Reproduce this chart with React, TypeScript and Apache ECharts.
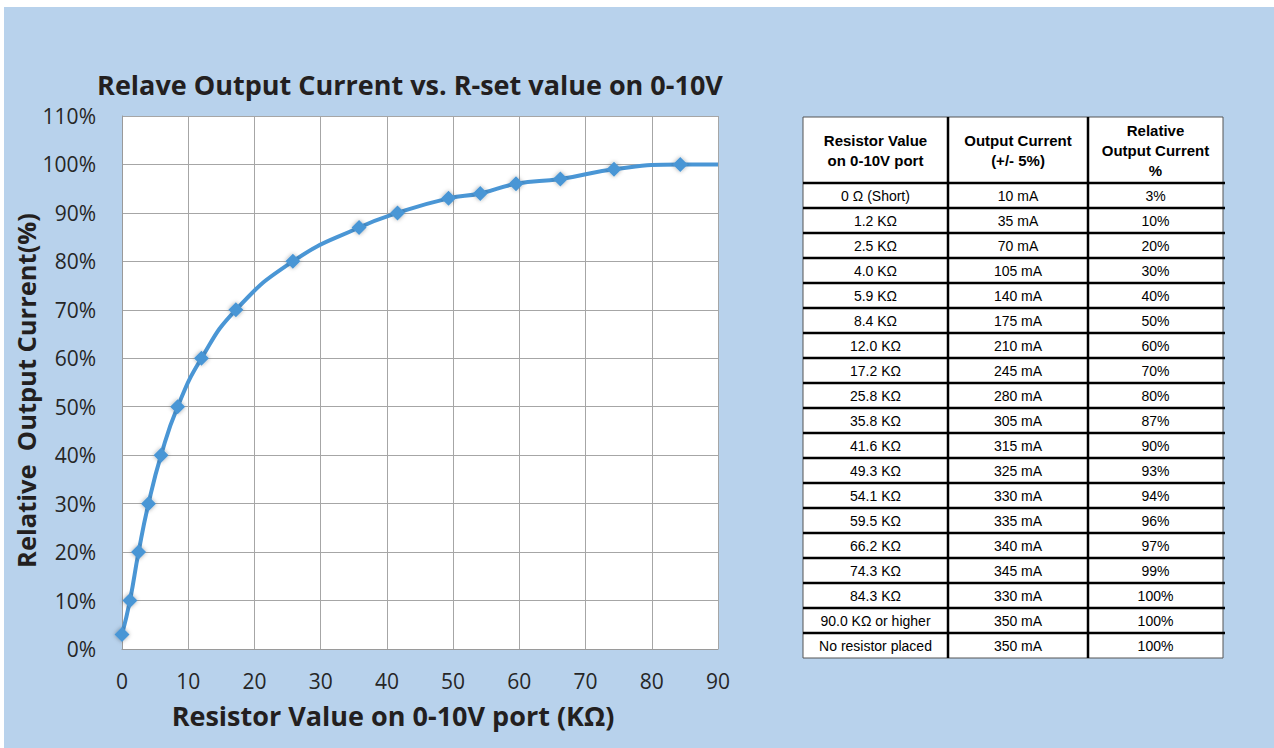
import React, { useEffect, useRef } from "react";
import * as echarts from "echarts";

// ---- Data ----
const resistorKOhm = [0, 1.2, 2.5, 4.0, 5.9, 8.4, 12.0, 17.2, 25.8, 35.8, 41.6, 49.3, 54.1, 59.5, 66.2, 74.3, 84.3, 90.0];
const relativePct = [3, 10, 20, 30, 40, 50, 60, 70, 80, 87, 90, 93, 94, 96, 97, 99, 100, 100];
const xTicks = [0, 10, 20, 30, 40, 50, 60, 70, 80, 90];
const yTicks = [0, 10, 20, 30, 40, 50, 60, 70, 80, 90, 100, 110];

const tableHeaders = ["Resistor Value\non 0-10V port", "Output Current\n(+/- 5%)", "Relative\nOutput Current\n%"];
const tableResistor = [
  "0 Ω (Short)", "1.2 KΩ", "2.5 KΩ", "4.0 KΩ", "5.9 KΩ", "8.4 KΩ", "12.0 KΩ", "17.2 KΩ", "25.8 KΩ",
  "35.8 KΩ", "41.6 KΩ", "49.3 KΩ", "54.1 KΩ", "59.5 KΩ", "66.2 KΩ", "74.3 KΩ", "84.3 KΩ",
  "90.0 KΩ or higher", "No resistor placed",
];
const tableCurrentMA = [10, 35, 70, 105, 140, 175, 210, 245, 280, 305, 315, 325, 330, 335, 340, 345, 330, 350, 350];
const tableRelativePct = [3, 10, 20, 30, 40, 50, 60, 70, 80, 87, 90, 93, 94, 96, 97, 99, 100, 100, 100];

const titleText = "Relave Output Current vs. R-set value on 0-10V";
const xName = "Resistor Value on 0-10V port (KΩ)";
const yName = "Relative  Output Current(%)";

// ---- Layout constants ----
const BG = "#b8d2ec";
const LINE = "#4a96d5";
const FONT = "'Open Sans', Lato, sans-serif";
const TFONT = "'Liberation Sans', Arial, sans-serif";

const colX = [799, 944, 1084, 1219];
const tableTop = 110;
const headerH = 66;
const rowH = 25;

function buildTable(): any[] {
  const els: any[] = [];
  const nRows = tableResistor.length;
  const bottom = tableTop + headerH + rowH * nRows;
  els.push({
    type: "rect",
    shape: { x: colX[0], y: tableTop, width: colX[3] - colX[0], height: bottom - tableTop },
    style: { fill: "#ffffff", stroke: "#555555", lineWidth: 1 },
    z: 1,
  });
  for (let c = 1; c < 3; c++) {
    els.push({
      type: "line",
      shape: { x1: colX[c], y1: tableTop, x2: colX[c], y2: bottom },
      style: { stroke: "#000000", lineWidth: 2.5 },
      z: 2,
    });
  }
  for (let r = 0; r < nRows; r++) {
    const y = tableTop + headerH + rowH * r;
    els.push({
      type: "line",
      shape: { x1: colX[0], y1: y, x2: colX[3] + 2, y2: y },
      style: { stroke: "#000000", lineWidth: 2.5 },
      z: 2,
    });
  }
  tableHeaders.forEach((h, c) => {
    els.push({
      type: "text",
      x: (colX[c] + colX[c + 1]) / 2,
      y: tableTop + headerH / 2,
      style: {
        text: h,
        fill: "#000000",
        font: `bold 15px ${TFONT}`,
        align: "center",
        verticalAlign: "middle",
        lineHeight: 20,
      },
      z: 3,
    });
  });
  for (let r = 0; r < nRows; r++) {
    const cy = tableTop + headerH + rowH * r + rowH / 2 + 0.5;
    const cells = [tableResistor[r], `${tableCurrentMA[r]} mA`, `${tableRelativePct[r]}%`];
    cells.forEach((t, c) => {
      els.push({
        type: "text",
        x: (colX[c] + colX[c + 1]) / 2,
        y: cy,
        style: {
          text: t,
          fill: "#000000",
          font: `14px ${TFONT}`,
          align: "center",
          verticalAlign: "middle",
        },
        z: 3,
      });
    });
  }
  return els;
}

export default function App() {
  const ref = useRef<HTMLDivElement>(null);

  useEffect(() => {
    document.body.style.margin = "0";
    if (!ref.current) return;
    const chart = echarts.init(ref.current, undefined, { renderer: "svg" });

    const seriesData = resistorKOhm.map((x, i) => {
      const isLast = i === resistorKOhm.length - 1;
      return isLast ? { value: [x, relativePct[i]], symbol: "none" } : { value: [x, relativePct[i]] };
    });

    chart.setOption({
      animation: false,
      backgroundColor: BG,
      textStyle: { fontFamily: FONT },
      grid: {
        left: 118,
        top: 109,
        width: 596,
        height: 533,
        show: true,
        backgroundColor: "#ffffff",
        borderWidth: 0,
      },
      xAxis: {
        type: "value",
        min: xTicks[0],
        max: xTicks[xTicks.length - 1],
        interval: 10,
        name: xName,
        nameLocation: "middle",
        nameGap: 53,
        nameTextStyle: {
          fontFamily: FONT,
          fontSize: 27,
          fontWeight: "bold",
          color: "#231f20",
          padding: [0, 54, 0, 0],
        },
        axisLine: { show: true, lineStyle: { color: "#9a9a9a", width: 1 } },
        axisTick: { show: false },
        axisLabel: { fontFamily: FONT, fontSize: 21, color: "#262626", margin: 21 },
        splitLine: { show: true, lineStyle: { color: "#a6a6a6", width: 1 } },
      },
      yAxis: {
        type: "value",
        min: yTicks[0],
        max: yTicks[yTicks.length - 1],
        interval: 10,
        name: yName,
        nameLocation: "middle",
        nameGap: 72,
        nameRotate: 90,
        nameTextStyle: {
          fontFamily: FONT,
          fontSize: 25.5,
          fontWeight: "bold",
          color: "#231f20",
          padding: [0, 16, 0, 0],
        },
        axisLine: { show: true, lineStyle: { color: "#9a9a9a", width: 1 } },
        axisTick: { show: false },
        axisLabel: {
          fontFamily: FONT,
          fontSize: 21,
          color: "#262626",
          margin: 26,
          formatter: (v: number) => `${v}%`,
        },
        splitLine: { show: true, lineStyle: { color: "#a6a6a6", width: 1 } },
      },
      series: [
        {
          type: "line",
          data: seriesData,
          smooth: 0.5,
          symbol: "diamond",
          symbolSize: 15,
          showSymbol: true,
          lineStyle: { color: LINE, width: 4 },
          itemStyle: {
            color: LINE,
            shadowBlur: 4,
            shadowColor: "rgba(0,0,0,0.35)",
          },
          z: 5,
        },
      ],
      graphic: {
        elements: [
          {
            type: "text",
            x: 406,
            y: 77,
            style: {
              text: titleText,
              fill: "#231f20",
              font: `bold 27px ${FONT}`,
              align: "center",
              verticalAlign: "middle",
            },
          },
          ...buildTable(),
        ],
      },
    });

    return () => {
      chart.dispose();
    };
  }, []);

  return (
    <div style={{ position: "relative", width: 1274, height: 748, background: "#ffffff", overflow: "hidden" }}>
      <div
        ref={ref}
        style={{ position: "absolute", left: 4, top: 7, width: 1270, height: 741, background: BG }}
      />
    </div>
  );
}
